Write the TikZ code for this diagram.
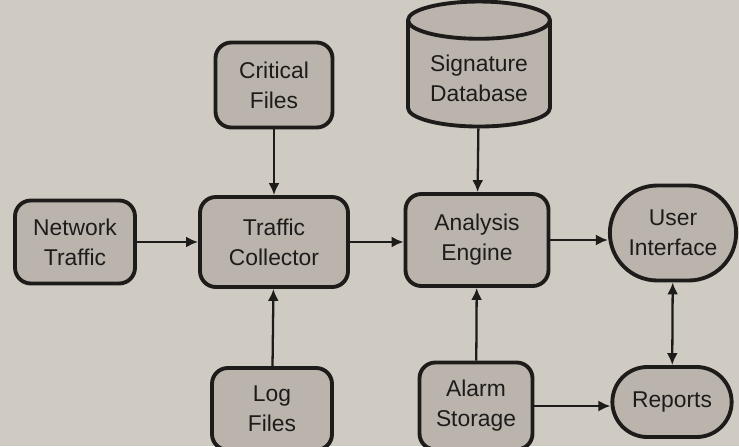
\documentclass[tikz,border=0pt]{standalone}
\usepackage{fontspec}
\setmainfont{Liberation Sans}
\usetikzlibrary{shapes.geometric, shapes.misc, arrows.meta, positioning}
\definecolor{cpaper}{HTML}{CFCAC2}
\definecolor{cbox}{HTML}{BAB4AC}
\definecolor{cink}{HTML}{1E1C1A}

\begin{document}
\begin{tikzpicture}[
  x=0.02cm, y=-0.02cm,
  box/.style={draw=cink, rounded corners=9pt, fill=cbox, line width=2.2pt,
              align=center, text=cink, font=\fontsize{13}{17}\selectfont},
  pill/.style={box, rounded rectangle, rounded corners=0pt},
  store/.style={box, cylinder, shape border rotate=90, aspect=0.34,
                rounded corners=0pt},
  arr/.style={-{Latex[length=2.4mm, width=2.2mm]}, line width=1.3pt, draw=cink},
  dbl/.style={{Latex[length=2.4mm, width=2.2mm]}-{Latex[length=2.4mm, width=2.2mm]},
              line width=1.3pt, draw=cink}
]
\fill[cpaper] (0,0) rectangle (739,446);
\useasboundingbox (0,0) rectangle (739,446);

%% Sources
\node[box, minimum width=2.4cm,  minimum height=1.66cm] (net)  at (75,242)  {Network\\Traffic};
\node[box, minimum width=2.34cm, minimum height=1.7cm]  (crit) at (274,85)  {Critical\\Files};
\node[box, minimum width=2.4cm,  minimum height=1.64cm] (log)  at (272,409) {Log\\Files};

%% Core
\node[box, minimum width=2.96cm, minimum height=1.8cm]  (coll) at (274,242) {Traffic\\Collector};
\node[box, minimum width=2.86cm, minimum height=1.84cm] (eng)  at (477,240) {Analysis\\Engine};
\node[store, minimum width=2.84cm, minimum height=2.5cm] (sig) at (479,78)  {Signature\\Database};
\node[box, minimum width=2.26cm, minimum height=1.74cm] (alarm) at (476,406) {Alarm\\Storage};

%% Outputs
\node[pill, minimum width=2.76cm, minimum height=1.9cm] (ui)  at (673,233) {User\\Interface};
\node[pill, minimum width=2.62cm, minimum height=1.4cm] (rep) at (672,402) {Reports};

%% Connections
\draw[arr] (net)   -- (coll);
\draw[arr] (crit)  -- (coll);
\draw[arr] (log)   -- (coll);
\draw[arr] (coll.east) -- (coll.east -| eng.west);
\draw[arr] (sig)   -- (eng);
\draw[arr] (alarm) -- (eng);
\draw[arr] (eng.east) -- (eng.east -| ui.west);
\draw[arr] (alarm.east) -- (alarm.east -| rep.west);
\draw[dbl] (ui) -- (rep);

\end{tikzpicture}
\end{document}
